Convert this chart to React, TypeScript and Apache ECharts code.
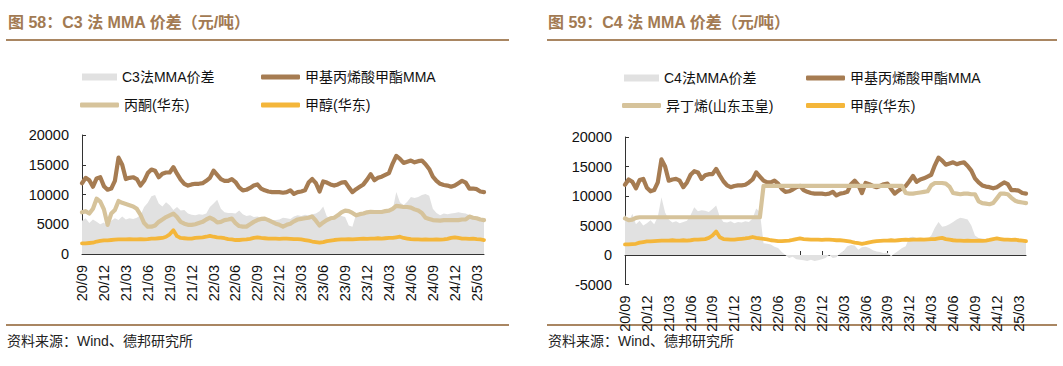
import React, { useEffect, useRef } from "react";
import * as echarts from "echarts";

// half-month categories from 2020-09 to 2025-04
const categories: string[] = [];
for (let i = 0; i < 111; i++) {
  const m = 8 + Math.floor(i / 2);
  const y = 2020 + Math.floor(m / 12);
  const mm = (m % 12) + 1;
  categories.push(`${y}-${String(mm).padStart(2, "0")}${i % 2 === 0 ? "上" : "下"}`);
}

const xTickLabels = [
  "20/09", "20/12", "21/03", "21/06", "21/09", "21/12", "22/03", "22/06", "22/09", "22/12",
  "23/03", "23/06", "23/09", "23/12", "24/03", "24/06", "24/09", "24/12", "25/03",
];

const mma = [
  11900, 12800, 12400, 11300, 12700, 12900, 11400, 10800, 11000, 12300,
  16200, 15000, 12600, 12800, 12900, 12600, 11500, 12300, 13600, 14200,
  14000, 12900, 13500, 13700, 13700, 14600, 13500, 12500, 11800, 11500,
  11700, 11800, 11800, 11900, 12300, 12800, 14000, 13300, 12600, 12300,
  12300, 12600, 12100, 11200, 10700, 10800, 11100, 11500, 11700, 11000,
  10700, 10500, 10400, 10400, 10400, 10300, 10400, 10700, 10100, 10400,
  10500, 10700, 12000, 12600, 11900, 10500, 12200, 12000, 11700, 11500,
  11700, 12000, 12100, 11200, 10400, 10900, 11300, 11700, 12500, 13400,
  12400, 12800, 13000, 13300, 13600, 15200, 16500, 16000, 15300, 15500,
  15700, 15400, 15600, 15700, 15100, 14300, 13000, 12300, 11800, 11600,
  11500, 11300, 11500, 11900, 12300, 12000, 11000, 11000, 10900, 10500, 10400,
];

const methanol = [
  1800, 1800, 1850, 1900, 2100, 2200, 2300, 2300, 2350, 2400,
  2450, 2450, 2450, 2500, 2450, 2450, 2500, 2450, 2500, 2600,
  2600, 2650, 2700, 2900, 3300, 4000, 3000, 2700, 2650, 2600,
  2600, 2700, 2750, 2800, 2900, 3050, 2900, 2800, 2750, 2650,
  2500, 2450, 2350, 2350, 2400, 2450, 2550, 2700, 2800, 2700,
  2650, 2600, 2600, 2600, 2550, 2600, 2600, 2550, 2500, 2500,
  2450, 2350, 2250, 2100, 2000, 1900, 2000, 2150, 2250, 2350,
  2400, 2450, 2450, 2500, 2450, 2500, 2550, 2600, 2550, 2600,
  2600, 2650, 2600, 2650, 2700, 2700, 2800, 2900, 2700, 2600,
  2500, 2450, 2450, 2400, 2450, 2400, 2400, 2450, 2400, 2450,
  2550, 2700, 2800, 2700, 2600, 2600, 2550, 2600, 2500, 2450, 2350,
];

const acetone = [
  7000, 7200, 6800, 7600, 9300, 8800, 7500, 4900, 6800, 7400,
  8900, 8600, 8400, 8200, 8000, 7600, 6600, 5200, 4600, 4600,
  4800, 5400, 5800, 6200, 6500, 6800, 6200, 5400, 5100, 4900,
  4900, 5000, 5200, 5400, 5800, 6100, 5800, 5300, 5400, 5700,
  5800, 5950, 5200, 4700, 4600, 4600, 5000, 5400, 5700, 5900,
  5950, 5700, 5400, 5100, 4900, 4600, 4900, 5100, 5500, 5800,
  5900, 6000, 6100, 6300, 5600, 4800, 5300, 5700, 6000, 6100,
  6500, 7000, 7300, 7200, 6900, 6500, 6700, 6800, 7000, 7100,
  7060, 7060, 7060, 7200, 7300, 7600, 8100, 8000, 7900, 7900,
  7800, 7500, 7300, 6900, 6100, 5900, 5700, 5650, 5600, 5700,
  5700, 5700, 5700, 5700, 5800, 5800, 6300, 6100, 6000, 5800, 5700,
];

const c3Spread = [
  5600, 6000, 5200, 5800, 5400, 5000, 5300, 4500, 5600, 6000,
  5700, 6300, 5800, 6000, 5900, 6100, 6500, 7900, 8600, 9700,
  9900, 8500, 8000, 8700, 8200, 7400, 7900, 7300, 7400, 6800,
  6600, 6500, 6700, 6600, 6800, 7900, 8500, 9100, 7600, 7000,
  6900, 6900, 6800, 7300, 6700, 6400, 6500, 6200, 6300, 6100,
  5900, 6000, 5700, 5700, 5800, 6100, 6000, 5900, 6300, 6500,
  6400, 6600, 6500, 6700, 6800, 7200, 8000, 6300, 6100, 6300,
  6500, 6400, 6200, 4800, 4600, 6700, 6800, 7000, 7100, 6900,
  7100, 7000, 6800, 6900, 7000, 7400, 10400, 8700, 8200, 8800,
  9600, 9400, 9600, 9900, 10100, 9800, 7600, 6900, 6500, 6800,
  6700, 6800, 6900, 7000, 6900, 6800, 6500, 6400, 6200, 6000, 5900,
];

const isobutylene = [
  6200, 5900, 6000, 6300, 6400, 6400, 6400, 6400, 6400, 6400,
  6400, 6400, 6400, 6400, 6400, 6400, 6400, 6400, 6400, 6400,
  6400, 6400, 6400, 6400, 6400, 6400, 6400, 6400, 6400, 6400,
  6400, 6400, 6400, 6400, 6400, 6400, 6400, 6400, 11700, 11700,
  11700, 11700, 11700, 11700, 11700, 11700, 11700, 11700, 11700, 11700,
  11700, 11700, 11700, 11700, 11700, 11700, 11700, 11700, 11700, 11700,
  11700, 11700, 11700, 11700, 11700, 11700, 11700, 11700, 11700, 11700,
  11700, 11700, 11700, 11700, 11700, 11700, 11700, 10500, 10400, 10400,
  10500, 10600, 10700, 10800, 11800, 12200, 12200, 12200, 12100, 11600,
  10500, 10400, 10300, 10400, 10400, 10300, 10300, 9100, 8800, 8700,
  8600, 8800, 9600, 10400, 10400, 10300, 9700, 9200, 9000, 8900, 8800,
];

const c4Spread = [
  6800, 5500, 7000, 5200, 5800, 5000, 5400, 5900, 5200, 6500,
  9800, 7200, 6000, 5500, 5700, 5400, 5600, 5800, 6800, 8100,
  7400, 7600, 7500, 7300, 7800, 8400, 6500, 5600, 5500, 5700,
  5400, 5600, 5500, 5700, 5600, 6200, 7900, 7300, 2000, 1900,
  1800, 1400, 1200, 500, 0, -500, -300, -700, -800, -900,
  -1000, -800, -1000, -900, -700, -500, 0, -500, -400, 300,
  700, 1500, 1700, 1600, 900, 1300, 1400, 1200, 800, 600,
  500, 300, 400, -200, 300, 700, 1200, 1500, 3000, 3100,
  2900, 2800, 2800, 2700, 3300, 4600, 5600, 4800, 4900, 5200,
  5600, 6000, 6300, 6200, 6000, 5000, 3300, 2900, 2800, 2700,
  2800, 2600, 2700, 2600, 2600, 2500, 2600, 2500, 2400, 2400, 2300,
];

const GRAY = "#e1e1e1";
const BROWN = "#a67c52";
const TAN = "#d6c39b";
const ORANGE = "#f4b63a";
const TITLE = "#a27a52";
const RULE = "#a98662";
const FONT = '"Liberation Sans", "Noto Sans CJK SC", sans-serif';

function xAxis(gridIndex: number) {
  return {
    type: "category",
    gridIndex,
    data: categories,
    boundaryGap: false,
    axisLine: { show: true, onZero: true, lineStyle: { color: "#333", width: 1 } },
    axisTick: { show: true, inside: true, length: 4, interval: 5, lineStyle: { color: "#333" } },
    axisLabel: {
      interval: 5,
      rotate: 90,
      margin: 11,
      fontSize: 14.5,
      color: "#111",
      fontFamily: FONT,
      formatter: (_v: string, idx: number) => (idx % 6 === 0 ? xTickLabels[idx / 6] ?? "" : ""),
    },
    splitLine: { show: false },
  };
}

function yAxis(gridIndex: number, min: number) {
  return {
    type: "value",
    gridIndex,
    min,
    max: 20000,
    interval: 5000,
    axisLine: { show: true, lineStyle: { color: "#333", width: 1 } },
    axisTick: { show: true, inside: true, length: 4, lineStyle: { color: "#333" } },
    axisLabel: {
      margin: 13,
      fontSize: 14.5,
      color: "#111",
      fontFamily: FONT,
      formatter: (v: number) => String(v),
    },
    splitLine: { show: false },
  };
}

function legendItem(name: string, left: number, top: number, color: string, area: boolean) {
  return {
    show: true,
    left,
    top,
    padding: 0,
    selectedMode: false,
    itemWidth: area ? 35 : 39,
    itemHeight: area ? 7 : 5,
    itemGap: 5,
    icon: area ? "rect" : "roundRect",
    itemStyle: { color, borderWidth: 0 },
    textStyle: { fontSize: 14, color: "#111", fontFamily: FONT, lineHeight: 14 },
    data: [{ name, icon: area ? "rect" : "roundRect", itemStyle: { color } }],
  };
}

function lineSeries(name: string, data: number[], color: string, idx: number, width = 4.2) {
  return {
    type: "line",
    name,
    data,
    xAxisIndex: idx,
    yAxisIndex: idx,
    showSymbol: false,
    symbol: "none",
    color,
    lineStyle: { color, width, join: "round", cap: "round" },
  };
}

function areaSeries(name: string, data: number[], idx: number) {
  return {
    type: "line",
    name,
    data,
    xAxisIndex: idx,
    yAxisIndex: idx,
    showSymbol: false,
    symbol: "none",
    color: GRAY,
    lineStyle: { width: 0, color: GRAY },
    areaStyle: { color: GRAY, opacity: 1 },
  };
}

export default function App() {
  const ref = useRef<HTMLDivElement>(null);
  useEffect(() => {
    if (!ref.current) return;
    const chart = echarts.init(ref.current, undefined, { renderer: "svg" });
    const option: any = {
      animation: false,
      backgroundColor: "#fff",
      grid: [
        { left: 82, top: 135, width: 402, height: 119 },
        { left: 625, top: 137, width: 401, height: 147.5 },
      ],
      xAxis: [xAxis(0), xAxis(1)],
      yAxis: [yAxis(0, 0), yAxis(1, -5000)],
      legend: [
        legendItem("C3法MMA价差", 82, 70, GRAY, true),
        legendItem("甲基丙烯酸甲酯MMA", 261, 70, BROWN, false),
        legendItem("丙酮(华东)", 80, 98, TAN, false),
        legendItem("甲醇(华东)", 261, 98, ORANGE, false),
        legendItem("C4法MMA价差", 624, 71, GRAY, true),
        legendItem("甲基丙烯酸甲酯MMA ", 806, 71, BROWN, false),
        legendItem("异丁烯(山东玉皇)", 622, 98.5, TAN, false),
        legendItem("甲醇(华东) ", 806, 98.5, ORANGE, false),
      ],
      series: [
        areaSeries("C3法MMA价差", c3Spread, 0),
        lineSeries("甲基丙烯酸甲酯MMA", mma, BROWN, 0),
        lineSeries("丙酮(华东)", acetone, TAN, 0),
        lineSeries("甲醇(华东)", methanol, ORANGE, 0, 3.8),
        areaSeries("C4法MMA价差", c4Spread, 1),
        lineSeries("甲基丙烯酸甲酯MMA ", mma, BROWN, 1),
        lineSeries("异丁烯(山东玉皇)", isobutylene, TAN, 1),
        lineSeries("甲醇(华东) ", methanol, ORANGE, 1, 3.8),
      ],
      graphic: [
        {
          type: "text",
          x: 8,
          y: 22.5,
          style: {
            text: "图 58：C3 法 MMA 价差（元/吨）",
            font: `bold 16px ${FONT}`,
            fill: TITLE,
            verticalAlign: "middle",
          },
        },
        {
          type: "text",
          x: 548,
          y: 22.5,
          style: {
            text: "图 59：C4 法 MMA 价差（元/吨）",
            font: `bold 16px ${FONT}`,
            fill: TITLE,
            verticalAlign: "middle",
          },
        },
        { type: "line", shape: { x1: 6, y1: 40, x2: 509, y2: 40 }, style: { stroke: RULE, lineWidth: 2 } },
        { type: "line", shape: { x1: 547, y1: 40, x2: 1057, y2: 40 }, style: { stroke: RULE, lineWidth: 2 } },
        { type: "line", shape: { x1: 6, y1: 325, x2: 509, y2: 325 }, style: { stroke: RULE, lineWidth: 2 } },
        { type: "line", shape: { x1: 547, y1: 325, x2: 1057, y2: 325 }, style: { stroke: RULE, lineWidth: 2 } },
        {
          type: "text",
          x: 7,
          y: 341,
          style: { text: "资料来源：Wind、德邦研究所", font: `14px ${FONT}`, fill: "#222", verticalAlign: "middle" },
        },
        {
          type: "text",
          x: 548,
          y: 341,
          style: { text: "资料来源：Wind、德邦研究所", font: `14px ${FONT}`, fill: "#222", verticalAlign: "middle" },
        },
      ],
    };
    chart.setOption(option);
    return () => chart.dispose();
  }, []);
  return (
    <div
      ref={ref}
      style={{ position: "absolute", left: 0, top: 0, width: 1063, height: 366, background: "#fff" }}
    />
  );
}
